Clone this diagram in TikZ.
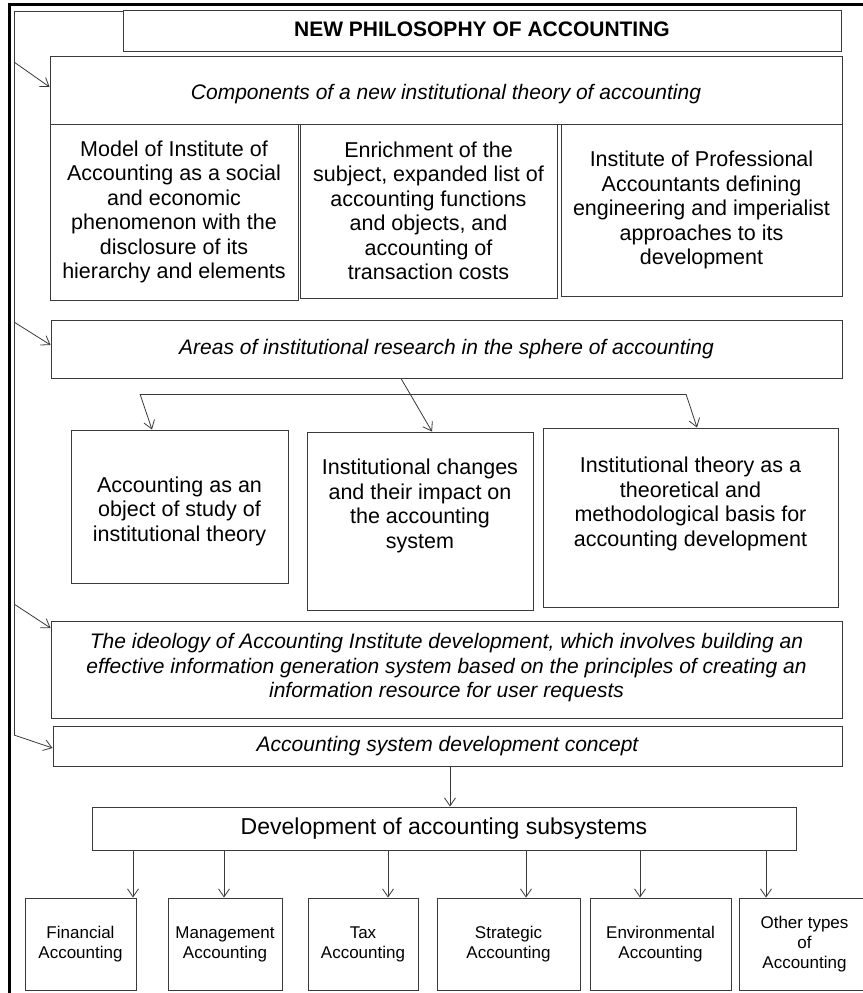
\documentclass[tikz,border=0pt]{standalone}
\usepackage{fontspec}
\setmainfont{Liberation Sans}
\usetikzlibrary{arrows.meta}
\definecolor{boxc}{HTML}{3A3A3A}
% box with centred text
\newcommand{\mybox}[7]{\node[#1,minimum width={#4pt-#2pt},minimum height={#5pt-#3pt}] (#6) at ({(#2+#4)/2},{(#3+#5)/2}) {#7};}
% box whose text sits at a given height
\newcommand{\myboxt}[8]{\node[#1,minimum width={#4pt-#2pt},minimum height={#5pt-#3pt}] (#6) at ({(#2+#4)/2},{(#3+#5)/2}) {};
  \node[#1,draw=none] (#6-t) at ({(#2+#4)/2},#8) {#7};}
\begin{document}
\begin{tikzpicture}[x=1pt,y=-1pt,
  bx/.style={draw=boxc, line width=0.9pt, inner sep=0pt, align=center, text=black, font=\fontsize{21.5}{24.5}\selectfont},
  hd/.style={bx, font=\fontsize{21}{24.5}\selectfont\itshape},
  tl/.style={bx, font=\fontsize{21}{24}\selectfont\bfseries},
  dv/.style={bx, font=\fontsize{23}{26}\selectfont},
  sm/.style={bx, font=\fontsize{17}{20}\selectfont},
  arr/.style={draw=boxc, line width=0.8pt, -{Straight Barb[length=8pt,width=11pt]}},
  ln/.style={draw=boxc, line width=0.8pt}]
\useasboundingbox (0,0) rectangle (862,993);
\fill[white] (0,0) rectangle (862,993);
% outer frame
\draw[line width=3pt, black] (9,993) -- (9,4) -- (870,4);
% boxes
\myboxt{tl}{123}{10}{841}{51}{title}{NEW PHILOSOPHY OF ACCOUNTING}{29}
\myboxt{hd}{50}{56}{842}{124}{comp}{Components of a new institutional theory of accounting}{94}
\mybox{bx}{50}{124}{298}{300}{c1}{Model of Institute of\\Accounting as a social\\and economic\\phenomenon with the\\disclosure of its\\hierarchy and elements}
\mybox{bx}{300}{124}{557}{298}{c2}{Enrichment of the\\subject, expanded list of\\accounting functions\\and objects, and\\accounting of\\transaction costs}
\mybox{bx}{561}{124}{842}{296}{c3}{Institute of Professional\\Accountants defining\\engineering and imperialist\\approaches to its\\development}
\mybox{hd}{51}{320}{842}{378}{areas}{Areas of institutional research in the sphere of accounting}
\myboxt{bx}{71}{430}{288}{583}{r1}{Accounting as an\\object of study of\\institutional theory}{511}
\myboxt{bx}{307}{432}{533}{610}{r2}{Institutional changes\\and their impact on\\the accounting\\system}{506}
\myboxt{bx}{543}{428}{838}{607}{r3}{Institutional theory as a\\theoretical and\\methodological basis for\\accounting development}{504}
\myboxt{hd}{51}{621}{842}{718}{ideo}{The ideology of Accounting Institute development, which involves building an\\effective information generation system based on the principles of creating an\\information resource for user requests}{668}
\mybox{hd}{53}{726}{842}{766}{concept}{Accounting system development concept}
\mybox{dv}{92}{807}{796}{850}{dev}{Development of accounting subsystems}
\mybox{sm}{25}{898}{136}{990}{s1}{Financial\\Accounting}
\mybox{sm}{168}{898}{282}{990}{s2}{Management\\Accounting}
\mybox{sm}{308}{898}{418}{990}{s3}{Tax\\Accounting}
\mybox{sm}{437}{898}{580}{990}{s4}{Strategic\\Accounting}
\mybox{sm}{590}{898}{731}{990}{s5}{Environmental\\Accounting}
\mybox{sm}{739}{898}{870}{990}{s6}{Other types\\of\\Accounting}
% trunk on the left
\coordinate (tA) at (14,11);
\coordinate (tB) at (14,62);
\coordinate (tC) at (14,322);
\coordinate (tD) at (14,604);
\coordinate (tE) at (14,735);
\draw[ln] (title.west |- tA) -- (tA) -- (tE);
\draw[arr] (tB) -- (comp.west |- 0,87);
\draw[arr] (tC) -- (areas.west |- 0,345);
\draw[arr] (tD) -- (ideo.west |- 0,628);
\draw[arr] (tE) -- (concept.west |- 0,748);
% branching under areas
\coordinate (hL) at (140,394);
\coordinate (hR) at (686,394);
\draw[ln] (hL) -- (hR);
\draw[arr] (hL) -- (r1.north -| 152,0);
\draw[arr] (hR) -- (r3.north -| 697,0);
\draw[arr] (areas.south -| 401,0) -- (r2.north -| 432,0);
% concept to development
\draw[arr] (concept.south -| 450,0) -- (dev.north -| 450,0);
% development to subsystems
\foreach \n/\x in {s1/133,s2/224,s3/388,s4/526,s5/640,s6/766}{
  \draw[arr] (dev.south -| \x,0) -- (\n.north -| \x,0);
}
\end{tikzpicture}
\end{document}
